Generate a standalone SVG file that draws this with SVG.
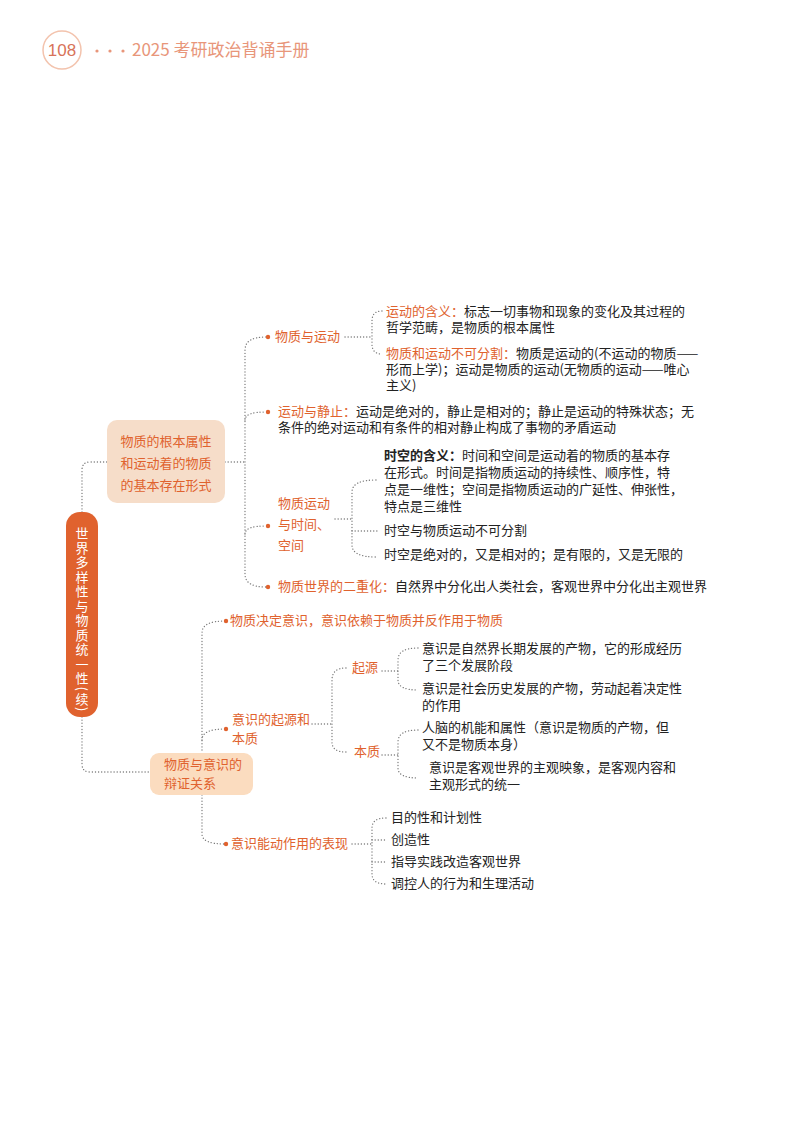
<svg xmlns="http://www.w3.org/2000/svg" width="800" height="1130" viewBox="0 0 800 1130">
<style>
text{font-family:"Noto Sans CJK SC","Noto Sans",sans-serif;font-size:13px;fill:#222}
.o{fill:#e0622e}
.lo{fill:#e8967a}
.b{font-weight:bold}
.c{fill:none;stroke:#777;stroke-width:1.3;stroke-dasharray:0.1 3;stroke-linecap:round}
.dot{fill:#e0622e}
</style>
<rect width="800" height="1130" fill="#fff"/>
<g id="header">
<circle cx="62" cy="50" r="19" fill="#fff" stroke="#f3c3ad" stroke-width="1.5"/>
<text x="62" y="56" text-anchor="middle" style="font-size:17px;font-family:'Liberation Sans',sans-serif;fill:#d8735a">108</text>
<circle cx="97" cy="51" r="1.6" fill="#e8967a"/>
<circle cx="110" cy="51" r="1.6" fill="#e8967a"/>
<circle cx="123" cy="51" r="1.6" fill="#e8967a"/>
<text x="132" y="56" class="lo" style="font-size:17px">2025 考研政治背诵手册</text>
</g>
<g id="connectors">
<path class="c" d="M82 512 V470 Q82 462 90 462 H107"/>
<path class="c" d="M82 717 V764 Q82 772 90 772 H150"/>
<path class="c" d="M225 462 H245"/>
<path class="c" d="M266 337 Q245 337 245 350 V574 Q245 587 266 587"/>
<path class="c" d="M245 420 Q245 412 266 412"/>
<path class="c" d="M245 534 Q245 526 266 526"/>
<path class="c" d="M345 337 H372"/>
<path class="c" d="M382 311 Q372 311 372 321 V344 Q372 354 382 354"/>
<path class="c" d="M335 519 H352"/>
<path class="c" d="M376 480 Q352 480 352 492 V545 Q352 557 376 557"/>
<path class="c" d="M352 531 H378"/>
<path class="c" d="M225 621 Q202 621 202 633 V753"/>
<path class="c" d="M202 795 V834 Q202 844 225 844"/>
<path class="c" d="M202 740 Q202 729 225 729"/>
<path class="c" d="M312 724 H332"/>
<path class="c" d="M346 668 Q332 668 332 680 V742 Q332 752 346 752"/>
<path class="c" d="M382 671 H398"/>
<path class="c" d="M418 648 Q398 648 398 660 V680 Q398 690 418 690"/>
<path class="c" d="M382 755 H398"/>
<path class="c" d="M418 730 Q398 730 398 742 V768 Q398 778 418 778"/>
<path class="c" d="M352 844 H372"/>
<path class="c" d="M386 818 Q372 818 372 828 V874 Q372 884 386 884"/>
<path class="c" d="M372 840 H386"/>
<path class="c" d="M372 862 H386"/>
</g>
<g id="root">
<rect x="66" y="512" width="32" height="205" rx="14" fill="#e0622e"/>
<text x="82" y="527" style="fill:#fff;writing-mode:vertical-rl;letter-spacing:1.5px">世界多样性与物质统一性(续)</text>
</g>
<g id="nodeA">
<rect x="107" y="420" width="118" height="83" rx="10" fill="#f6ddc9"/>
<text x="166" y="446" text-anchor="middle" class="o">物质的根本属性</text>
<text x="166" y="468" text-anchor="middle" class="o">和运动着的物质</text>
<text x="166" y="490" text-anchor="middle" class="o">的基本存在形式</text>
</g>
<g id="motion">
<circle cx="268" cy="337" r="2.2" class="dot"/>
<text x="275" y="341" class="o">物质与运动</text>
<text x="386" y="316"><tspan class="o">运动的含义：</tspan>标志一切事物和现象的变化及其过程的</text>
<text x="386" y="332">哲学范畴，是物质的根本属性</text>
<text x="386" y="358"><tspan class="o">物质和运动不可分割：</tspan>物质是运动的(不运动的物质——</text>
<text x="386" y="374">形而上学)；运动是物质的运动(无物质的运动——唯心</text>
<text x="386" y="390">主义)</text>
</g>
<g id="rest">
<circle cx="268" cy="412" r="2.2" class="dot"/>
<text x="278" y="416"><tspan class="o">运动与静止：</tspan>运动是绝对的，静止是相对的；静止是运动的特殊状态；无</text>
<text x="278" y="432">条件的绝对运动和有条件的相对静止构成了事物的矛盾运动</text>
</g>
<g id="spacetime">
<circle cx="268" cy="526" r="2.2" class="dot"/>
<text x="278" y="508" class="o">物质运动</text>
<text x="278" y="529" class="o">与时间、</text>
<text x="278" y="550" class="o">空间</text>
<text x="384" y="460"><tspan class="b">时空的含义：</tspan>时间和空间是运动着的物质的基本存</text>
<text x="384" y="477">在形式。时间是指物质运动的持续性、顺序性，特</text>
<text x="384" y="494">点是一维性；空间是指物质运动的广延性、伸张性，</text>
<text x="384" y="511">特点是三维性</text>
<text x="384" y="535">时空与物质运动不可分割</text>
<text x="384" y="559">时空是绝对的，又是相对的；是有限的，又是无限的</text>
</g>
<g id="dual">
<circle cx="268" cy="587" r="2.2" class="dot"/>
<text x="278" y="591"><tspan class="o">物质世界的二重化：</tspan>自然界中分化出人类社会，客观世界中分化出主观世界</text>
</g>
<g id="nodeB">
<rect x="150" y="753" width="103" height="42" rx="9" fill="#fbdcbf"/>
<text x="164" y="769" class="o">物质与意识的</text>
<text x="164" y="788" class="o">辩证关系</text>
</g>
<g id="determine">
<circle cx="226" cy="621" r="2.2" class="dot"/>
<text x="230" y="625" class="o">物质决定意识，意识依赖于物质并反作用于物质</text>
</g>
<g id="origin">
<circle cx="226" cy="729" r="2.2" class="dot"/>
<text x="232" y="724" class="o">意识的起源和</text>
<text x="232" y="743" class="o">本质</text>
<text x="352" y="672" class="o">起源</text>
<text x="354" y="756" class="o">本质</text>
<text x="422" y="653">意识是自然界长期发展的产物，它的形成经历</text>
<text x="422" y="670">了三个发展阶段</text>
<text x="422" y="693">意识是社会历史发展的产物，劳动起着决定性</text>
<text x="422" y="710">的作用</text>
<text x="422" y="732">人脑的机能和属性（意识是物质的产物，但</text>
<text x="422" y="749">又不是物质本身）</text>
<text x="429" y="772">意识是客观世界的主观映象，是客观内容和</text>
<text x="429" y="789">主观形式的统一</text>
</g>
<g id="active">
<circle cx="226" cy="844" r="2.2" class="dot"/>
<text x="231" y="848" class="o">意识能动作用的表现</text>
<text x="391" y="822">目的性和计划性</text>
<text x="391" y="844">创造性</text>
<text x="391" y="866">指导实践改造客观世界</text>
<text x="391" y="888">调控人的行为和生理活动</text>
</g>
</svg>
